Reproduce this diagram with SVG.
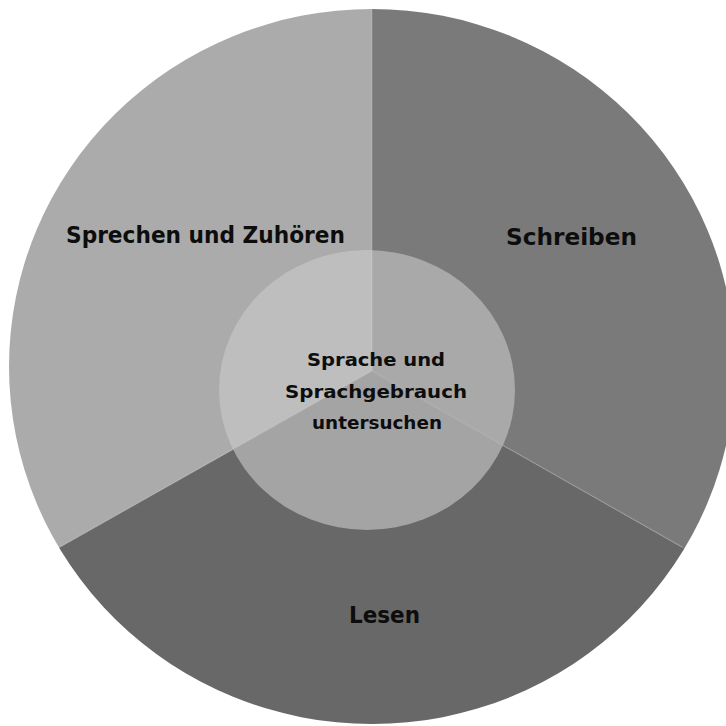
<svg xmlns="http://www.w3.org/2000/svg" width="726" height="726" viewBox="0 0 726 726">
  <defs>
    <clipPath id="outer"><ellipse cx="372" cy="366.5" rx="363" ry="357.5"/></clipPath>
    <clipPath id="inner"><ellipse cx="367" cy="390" rx="148" ry="140"/></clipPath>
    <style>
      .lbl { font-family: "Century Gothic", "URW Gothic", "DejaVu Sans", "Liberation Sans", sans-serif; font-weight: bold; fill: #0d0d0d; text-anchor: middle; }
      .big { font-size: 23px; }
      .small { font-size: 18px; }
      .div { stroke: #ffffff; stroke-opacity: 0.12; stroke-width: 1.5; fill: none; }
    </style>
  </defs>
  <rect width="726" height="726" fill="#ffffff"/>
  <g clip-path="url(#outer)">
    <g id="sprechen">
      <polygon points="372,371 372,-10 -10,-10 -10,586.5" fill="#ababab"/>
    </g>
    <g id="schreiben">
      <polygon points="372,371 372,-10 740,-10 740,580" fill="#7a7a7a"/>
    </g>
    <g id="lesen">
      <polygon points="372,371 -10,586.5 -10,740 740,740 740,580" fill="#686868"/>
    </g>
  </g>
  <g id="sprache" clip-path="url(#inner)">
    <polygon points="372,371 372,-10 -10,-10 -10,586.5" fill="#bebebe"/>
    <polygon points="372,371 372,-10 740,-10 740,580" fill="#a9a9a9"/>
    <polygon points="372,371 -10,586.5 -10,740 740,740 740,580" fill="#a4a4a4"/>
  </g>
  <g id="connectors" clip-path="url(#outer)">
    <path class="div" d="M372,9 L372,371 L60,547 M372,371 L682,547"/>
  </g>
  <g id="labels">
    <text class="lbl big" x="205.5" y="243" textLength="279" lengthAdjust="spacingAndGlyphs">Sprechen und Zuhören</text>
    <text class="lbl big" x="571.5" y="245" textLength="131" lengthAdjust="spacingAndGlyphs">Schreiben</text>
    <text class="lbl big" x="384.5" y="623" textLength="71" lengthAdjust="spacingAndGlyphs">Lesen</text>
    <text class="lbl small" x="376" y="366" textLength="138" lengthAdjust="spacingAndGlyphs">Sprache und</text>
    <text class="lbl small" x="376" y="398" textLength="182" lengthAdjust="spacingAndGlyphs">Sprachgebrauch</text>
    <text class="lbl small" x="377" y="429" textLength="130" lengthAdjust="spacingAndGlyphs">untersuchen</text>
  </g>
</svg>
